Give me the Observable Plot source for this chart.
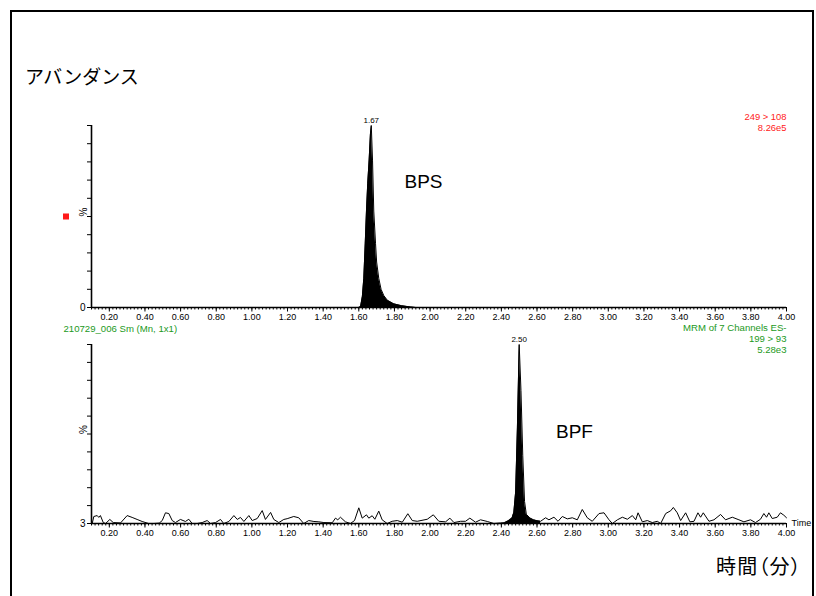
<!DOCTYPE html>
<html><head><meta charset="utf-8">
<script src="https://cdn.jsdelivr.net/npm/d3@7"></script>
<script src="https://cdn.jsdelivr.net/npm/@observablehq/plot@0.6"></script>
<style>
html,body{margin:0;padding:0;background:#fff;}
#wrap{position:relative;width:816px;height:596px;overflow:hidden;font-family:"Liberation Sans",Arial,sans-serif;}
#frame{position:absolute;left:10px;top:10px;width:800px;height:600px;border:2px solid #000;border-bottom:none;}
.jp{position:absolute;font-family:"Noto Sans CJK JP",sans-serif;color:#000;line-height:1;white-space:nowrap;}
#ylab{left:25px;top:66px;font-size:19px;}
#xlab{right:14px;top:556px;font-size:20px;font-feature-settings:"palt";letter-spacing:1.2px;}
.panel{position:absolute;left:0;}
</style></head><body>
<div id="wrap"><div id="frame"></div>
<div class="jp" id="ylab">アバンダンス</div>
<div class="jp" id="xlab">時間（分）</div>
<div class="panel" id="p1" style="top:110px"></div>
<div class="panel" id="p2" style="top:320px"></div>
</div>
<script>
// ---- data ----
const topTime  = [0.10, 1.600, 1.610, 1.620, 1.628, 1.636, 1.643, 1.650, 1.658, 1.665, 1.670, 1.677, 1.684, 1.694, 1.700, 1.712, 1.725, 1.740, 1.760, 1.796, 1.840, 1.890, 1.920, 4.00];
const topAbund = [0, 0, 0.5, 6, 16, 35, 53, 68, 81, 95, 100, 81, 53, 35, 25, 16, 10, 6.6, 4, 2, 1, 0.3, 0, 0];

const botTime = [0.104,0.113,0.132,0.141,0.150,0.166,0.179,0.203,0.222,0.263,0.300,0.328,0.356,0.384,0.420,0.450,0.480,0.497,0.515,0.534,0.553,0.571,0.599,0.627,0.646,0.665,0.693,0.721,0.749,0.768,0.796,0.824,0.842,0.871,0.899,0.918,0.936,0.955,0.983,1.002,1.030,1.058,1.076,1.105,1.123,1.151,1.179,1.198,1.235,1.263,1.291,1.319,1.348,1.376,1.404,1.451,1.469,1.482,1.497,1.525,1.553,1.576,1.600,1.619,1.643,1.656,1.675,1.690,1.712,1.731,1.759,1.787,1.816,1.844,1.875,1.900,1.928,1.984,2.018,2.049,2.087,2.111,2.134,2.171,2.199,2.223,2.255,2.283,2.321,2.358,2.395,2.420,2.440,2.460,2.470,2.480,2.490,2.500,2.510,2.520,2.530,2.540,2.560,2.580,2.600,2.620,2.648,2.667,2.695,2.718,2.742,2.770,2.798,2.826,2.854,2.882,2.910,2.948,2.976,3.004,3.023,3.051,3.079,3.107,3.135,3.154,3.167,3.191,3.219,3.247,3.275,3.294,3.322,3.350,3.365,3.387,3.406,3.434,3.458,3.481,3.503,3.518,3.533,3.565,3.593,3.630,3.658,3.696,3.733,3.761,3.798,3.826,3.854,3.873,3.888,3.901,3.920,3.948,3.966,3.985,4.000];
const botAbund = [3.0,6.8,7.3,6.3,7.3,3.5,3.0,5.2,3.5,3.3,7.3,6.3,5.2,4.1,3.0,3.0,3.2,4.6,8.8,8.4,4.6,3.5,5.2,4.1,5.3,3.0,3.0,3.5,4.6,3.0,3.5,5.2,3.0,4.1,7.3,5.2,6.3,4.1,7.3,4.6,5.7,10.0,5.2,9.0,5.2,3.5,5.2,5.6,6.8,6.1,3.0,4.6,4.1,3.9,3.5,3.4,5.9,5.0,6.4,3.9,3.0,4.6,11.5,5.9,7.7,5.9,7.2,5.3,9.7,5.0,3.0,4.2,4.6,3.7,8.3,4.6,4.2,5.3,7.7,4.2,3.9,5.9,3.5,4.2,4.2,5.9,3.7,5.0,4.1,3.0,3.3,3.5,4.5,6.0,9.0,20,55,100,75,40,15,8,6,5,4.5,4.2,6.1,5.0,6.4,4.2,6.8,5.5,6.1,5.0,10.6,6.1,4.2,8.4,8.8,5.0,3.0,5.0,6.4,5.3,7.3,5.0,8.8,3.9,4.6,3.5,4.2,3.0,8.4,9.9,11.7,8.8,4.6,8.8,3.9,4.2,8.8,6.4,8.8,4.2,5.0,7.9,5.0,6.4,5.0,3.9,5.0,3.5,5.3,8.4,6.4,8.8,5.7,6.4,8.8,7.5,6.1];

const xTicks = [0.2,0.4,0.6,0.8,1.0,1.2,1.4,1.6,1.8,2.0,2.2,2.4,2.6,2.8,3.0,3.2,3.4,3.6,3.8,4.0];
const xMinor = d3.range(0, 196).map(i => +(0.10 + i * 0.02).toFixed(2));
const yTicksTop = [0,10,20,30,40,50,60,70,80,90,100];
const yTicksBot = [3,12.7,22.4,32.1,41.8,51.5,61.2,70.9,80.6,90.3,100];

const topPeak = [{t: 1.67, v: 100, label: "1.67"}];
const botPeak = [{t: 2.50, v: 100, label: "2.50"}];
const topName = [{t: 1.963, v: 69.2, label: "BPS"}];
const botName = [{t: 2.810, v: 52.9, label: "BPF"}];

const topRows = topTime.map((t, i) => ({t, v: topAbund[i]}));
const botRows = botTime.map((t, i) => ({t, v: botAbund[i]}));
const botPeakRows = botRows.filter(d => d.t >= 2.42 && d.t <= 2.62);

const RED = "#ff1a1a", GREEN = "#229922";
const common = {
  width: 816, marginLeft: 91, marginRight: 30,
  x: {domain: [0.1, 4.0]},
  style: {background: "transparent", fontFamily: "'Liberation Sans', Arial, sans-serif", fontSize: "9px", color: "#000", overflow: "visible"}
};

const p1 = Plot.plot({
  ...common, height: 222, marginTop: 15, marginBottom: 25,
  y: {domain: [0, 100]},
  marks: [
    Plot.areaY(topRows, {x: "t", y: "v", fill: "#000"}),
    Plot.lineY(topRows, {x: "t", y: "v", stroke: "#000", strokeWidth: 1}),
    Plot.axisX(xMinor, {tickSize: 2.5, tickFormat: () => "", label: null, strokeWidth: 1}),
    Plot.axisX(xTicks, {tickSize: 4.5, tickPadding: 1.5, tickFormat: d => d.toFixed(2), label: null, strokeWidth: 1}),
    Plot.axisY(yTicksTop, {tickSize: 4, tickPadding: 2, tickFormat: d => d === 0 ? "0" : "", label: null, fontSize: 10}),
    Plot.ruleY([0], {strokeWidth: 1.6}),
    Plot.ruleX([0.1], {strokeWidth: 1.6}),
    Plot.text(["%"], {frameAnchor: "left", dx: -8, rotate: -90, fontSize: 10}),
    Plot.dot([0], {frameAnchor: "left", dx: -25.5, symbol: "square", r: 3.4, fill: RED, stroke: null}),
    Plot.text(topPeak, {x: "t", y: "v", text: "label", dy: -5, fontSize: 8}),
    Plot.text(topName, {x: "t", y: "v", text: "label", fontSize: 19}),
    Plot.text(["249 > 108\n8.26e5"], {frameAnchor: "top-right", textAnchor: "end", lineAnchor: "middle", dy: -4, lineHeight: 1.18, fill: RED, fontSize: 9.4})
  ]
});
document.getElementById("p1").append(p1);

const p2 = Plot.plot({
  ...common, height: 223, marginTop: 24, marginBottom: 20,
  y: {domain: [3, 100]},
  marks: [
    Plot.areaY(botPeakRows, {x: "t", y1: 3, y2: "v", fill: "#000"}),
    Plot.lineY(botRows, {x: "t", y: "v", stroke: "#000", strokeWidth: 1}),
    Plot.axisX(xMinor, {tickSize: 2.5, tickFormat: () => "", label: null, strokeWidth: 1}),
    Plot.axisX(xTicks, {tickSize: 4.5, tickPadding: 1.5, tickFormat: d => d.toFixed(2), label: null, strokeWidth: 1}),
    Plot.axisY(yTicksBot, {tickSize: 4, tickPadding: 2, tickFormat: d => d === 3 ? "3" : "", label: null, fontSize: 10}),
    Plot.ruleY([3], {strokeWidth: 1.6}),
    Plot.ruleX([0.1], {strokeWidth: 1.6}),
    Plot.text(["%"], {frameAnchor: "left", dx: -8, rotate: -90, fontSize: 10}),
    Plot.text(["Time"], {frameAnchor: "bottom-right", textAnchor: "start", dx: 5, dy: 2}),
    Plot.text(botPeak, {x: "t", y: "v", text: "label", dy: -5, fontSize: 8}),
    Plot.text(botName, {x: "t", y: "v", text: "label", fontSize: 19}),
    Plot.text(["210729_006 Sm (Mn, 1x1)"], {frameAnchor: "top-left", textAnchor: "start", lineAnchor: "middle", dx: -28, dy: -16, fill: GREEN, fontSize: 9.6}),
    Plot.text(["MRM of 7 Channels ES-\n199 > 93\n5.28e3"], {frameAnchor: "top-right", textAnchor: "end", lineAnchor: "top", dy: -21.5, lineHeight: 1.15, fill: GREEN, fontSize: 9.6})
  ]
});
document.getElementById("p2").append(p2);
</script>
</body></html>
